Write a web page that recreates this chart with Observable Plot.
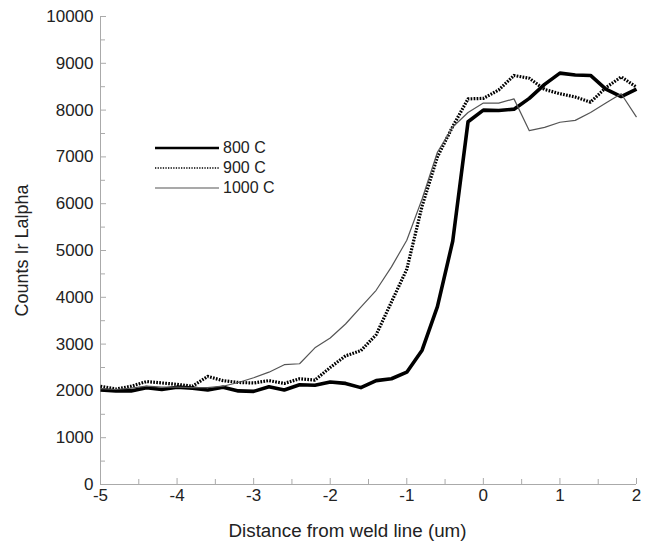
<!DOCTYPE html>
<html>
<head>
<meta charset="utf-8">
<script src="https://cdn.jsdelivr.net/npm/d3@7"></script>
<script src="https://cdn.jsdelivr.net/npm/@observablehq/plot@0.6"></script>
<style>
  html, body { margin: 0; padding: 0; background: #fff; }
  #wrap { position: relative; width: 650px; height: 544px; font-family: "Liberation Sans", Arial, sans-serif; }
  #legend { position: absolute; left: 155px; top: 138px; font-size: 16px; color: #222; }
  #legend .row { display: flex; align-items: center; height: 20px; }
  #legend svg { width: 64px; height: 20px; margin-right: 4px; }
</style>
</head>
<body>
<div id="wrap"><div id="chart"></div><div id="legend"></div></div>
<script>
// Distance from weld line (um)
const distance = [-5, -4.8, -4.6, -4.4, -4.2, -4.0, -3.8, -3.6, -3.4, -3.2, -3.0, -2.8, -2.6, -2.4, -2.2, -2.0, -1.8, -1.6, -1.4, -1.2, -1.0, -0.8, -0.6, -0.4, -0.2, 0, 0.2, 0.4, 0.6, 0.8, 1.0, 1.2, 1.4, 1.6, 1.8, 2.0];
const series = ["800 C", "900 C", "1000 C"];
const c800 = [2020, 2000, 2000, 2070, 2030, 2080, 2060, 2020, 2080, 2000, 1990, 2090, 2020, 2130, 2120, 2190, 2160, 2070, 2220, 2260, 2400, 2870, 3800, 5200, 7750, 8000, 7990, 8020, 8250, 8550, 8790, 8750, 8740, 8450, 8290, 8450];
const c900 = [2100, 2040, 2100, 2200, 2170, 2140, 2100, 2310, 2220, 2180, 2170, 2220, 2160, 2260, 2230, 2500, 2750, 2860, 3200, 3900, 4600, 5950, 7000, 7650, 8240, 8250, 8430, 8740, 8680, 8440, 8350, 8280, 8170, 8480, 8710, 8490];
const c1000 = [2050, 2030, 2060, 2100, 2080, 2080, 2070, 2070, 2100, 2180, 2280, 2400, 2560, 2580, 2920, 3130, 3430, 3790, 4150, 4650, 5220, 6100, 7100, 7640, 7950, 8150, 8150, 8240, 7560, 7630, 7740, 7780, 7950, 8150, 8350, 7850];
const xTicks = [-5, -4, -3, -2, -1, 0, 1, 2];
const xMinor = [-4.5, -3.5, -2.5, -1.5, -0.5, 0.5, 1.5];
const yTicks = [0, 1000, 2000, 3000, 4000, 5000, 6000, 7000, 8000, 9000, 10000];
const yMinor = [500, 1500, 2500, 3500, 4500, 5500, 6500, 7500, 8500, 9500];
const xLabel = "Distance from weld line (um)";
const yLabel = "Counts Ir Lalpha";

const styles = {
  "800 C": {stroke: "#000", strokeWidth: 3.6, dash: null},
  "900 C": {stroke: "#000", strokeWidth: 3.2, dash: "1.7,1.3"},
  "1000 C": {stroke: "#555", strokeWidth: 1.2, dash: null}
};
const values = [c800, c900, c1000];
const rows = series.flatMap((s, k) => distance.map((x, i) => ({series: s, x, y: values[k][i]})));

const axisColor = "#aaa";
const lineMarks = series.map(s => Plot.line(rows.filter(d => d.series === s), {
  x: "x", y: "y", stroke: styles[s].stroke, strokeWidth: styles[s].strokeWidth,
  strokeDasharray: styles[s].dash, strokeLinejoin: "round", strokeLinecap: "butt"
}));

const chart = Plot.plot({
  width: 650,
  height: 544,
  marginLeft: 100,
  marginRight: 14,
  marginTop: 16,
  marginBottom: 60,
  style: {fontFamily: "'Liberation Sans', Arial, sans-serif", fontSize: "17px", color: "#222", background: "#fff"},
  x: {domain: [-5, 2], label: null},
  y: {domain: [0, 10000], label: null},
  marks: [
    Plot.ruleY([0], {stroke: axisColor}),
    Plot.ruleX([-5], {stroke: axisColor}),
    Plot.ruleX(xTicks, {x: d => d, y1: 0, y2: 0, insetTop: -6, stroke: axisColor}),
    Plot.ruleX(xMinor, {x: d => d, y1: 0, y2: 0, insetTop: -5, stroke: axisColor}),
    Plot.ruleY(yTicks, {y: d => d, x1: -5, x2: -5, insetRight: -6, stroke: axisColor}),
    Plot.ruleY(yMinor, {y: d => d, x1: -5, x2: -5, insetRight: -5, stroke: axisColor}),
    Plot.axisX(xTicks, {tickSize: 0, tickPadding: 4, tickFormat: d => String(d), fill: "#222", fontSize: 17}),
    Plot.axisY(yTicks, {tickSize: 0, tickPadding: 7, tickFormat: d => String(d), fill: "#222", fontSize: 17}),
    Plot.text([xLabel], {frameAnchor: "bottom", dy: 52, dx: -21, fill: "#222", fontSize: 18.8}),
    Plot.text([yLabel], {frameAnchor: "left", textAnchor: "middle", rotate: -90, dx: -78, fill: "#222", fontSize: 18}),
    ...lineMarks
  ]
});
document.getElementById("chart").appendChild(chart);

// Legend
const legend = document.getElementById("legend");
for (const s of series) {
  const st = styles[s];
  const row = document.createElement("div");
  row.className = "row";
  row.innerHTML = `<svg viewBox="0 0 64 20"><line x1="0" x2="64" y1="10" y2="10" stroke="${st.stroke}" stroke-width="${s === "800 C" ? 2.5 : s === "900 C" ? 1.5 : 1.2}" ${st.dash ? `stroke-dasharray="1.3,1.3"` : ""}/></svg><span>${s}</span>`;
  legend.appendChild(row);
}
</script>
</body>
</html>
